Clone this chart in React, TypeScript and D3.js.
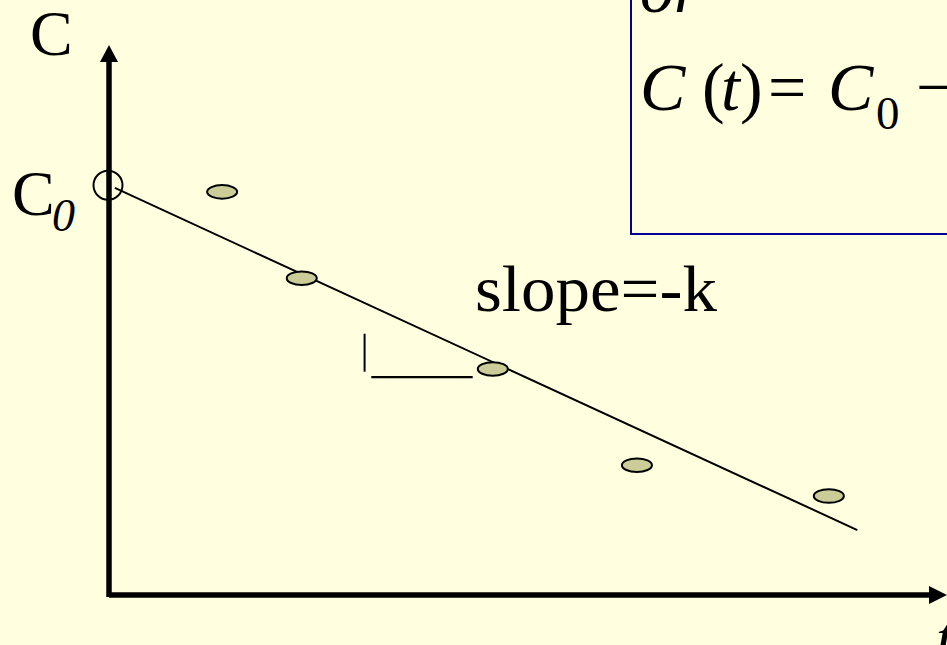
import React from "react";
import * as d3 from "d3";

// ---- data ----
const tValues: number[] = [13.5, 23.0, 45.8, 63.0, 85.9];
const cValues: number[] = [73.3, 57.6, 41.1, 23.6, 18.0];
const c0Value = 74.5;
const kValue = 0.702;
const fitT: number[] = [0.7, 89.3];
// slope triangle annotation (data units)
const slopeTickV: number[][] = [[30.5, 47.5], [30.5, 40.6]];
const slopeTickH: number[][] = [[31.3, 39.6], [43.4, 39.6]];

const W = 947;
const H = 645;
const BG = "#ffffe0";

export default function App() {
  const x = d3.scaleLinear().domain([0, 100]).range([109, 947]);
  const y = d3.scaleLinear().domain([0, 100]).range([595, 45]);
  const line = d3
    .line<number[]>()
    .x((d) => x(d[0]))
    .y((d) => y(d[1]));
  const fitPts = fitT.map((t) => [t, c0Value - kValue * t]);
  const serif = { fontFamily: "Liberation Serif, DejaVu Serif, serif" };

  return (
    <svg
      width={W}
      height={H}
      style={{ position: "fixed", left: 0, top: 0, display: "block" }}
    >
      <rect x={0} y={0} width={W} height={H} fill={BG} />

      {/* formula box */}
      <rect x={631} y={-10} width={400} height={244} fill={BG} stroke="#000099" strokeWidth={2} />
      <text x={640} y={12} style={serif} fontStyle="italic" fontSize={68} fill="#000">or</text>
      <text y={110} style={serif} fontSize={68} fill="#000">
        <tspan x={640} fontStyle="italic">C</tspan>
        <tspan x={702}>(</tspan>
        <tspan x={721} fontStyle="italic">t</tspan>
        <tspan x={740}>)</tspan>
        <tspan x={768}>=</tspan>
        <tspan x={828} fontStyle="italic">C</tspan>
        <tspan x={876} y={129} fontSize={47}>0</tspan>
        <tspan x={916} y={110}>−</tspan>
      </text>

      {/* axes */}
      <line x1={x(0)} y1={y(0) + 2} x2={x(0)} y2={62} stroke="#000" strokeWidth={5.5} />
      <line x1={x(0)} y1={y(0)} x2={931} y2={y(0)} stroke="#000" strokeWidth={5.5} />
      <path d={`M${x(0)},${y(100)} L${x(0) - 9},62 L${x(0) + 9},62 Z`} fill="#000" />
      <path d={`M${x(100)},${y(0)} L929,${y(0) - 9} L929,${y(0) + 9} Z`} fill="#000" />

      {/* axis labels */}
      <text x={30} y={55} style={serif} fontSize={64} fill="#000">C</text>
      <text x={12} y={215} style={serif} fontSize={64} fill="#000">C</text>
      <text x={52} y={231} style={serif} fontStyle="italic" fontSize={46} fill="#000">0</text>
      <text x={936} y={660} style={serif} fontStyle="italic" fontSize={64} fill="#000">t</text>

      {/* fit line */}
      <path d={line(fitPts) || ""} fill="none" stroke="#000" strokeWidth={2} />

      {/* C0 marker */}
      <circle cx={x(0) - 1} cy={y(c0Value)} r={14.5} fill="none" stroke="#000" strokeWidth={2} />

      {/* slope triangle */}
      <path d={line(slopeTickV) || ""} stroke="#000" strokeWidth={2} fill="none" />
      <path d={line(slopeTickH) || ""} stroke="#000" strokeWidth={2.2} fill="none" />

      {/* data points */}
      {tValues.map((t, i) => (
        <ellipse
          key={i}
          cx={x(t)}
          cy={y(cValues[i])}
          rx={15}
          ry={6.8}
          fill="#cccc99"
          stroke="#000"
          strokeWidth={2}
        />
      ))}

      <text
        x={475}
        y={311}
        style={serif}
        fontSize={66}
        textLength={242}
        lengthAdjust="spacingAndGlyphs"
        fill="#000"
      >
        slope=-k
      </text>
    </svg>
  );
}
